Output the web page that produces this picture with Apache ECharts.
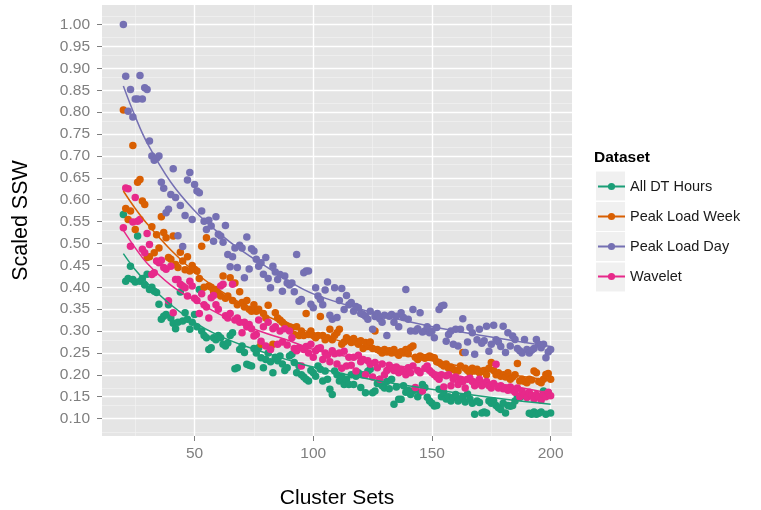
<!DOCTYPE html>
<html>
<head>
<meta charset="utf-8">
<script src="https://cdn.jsdelivr.net/npm/echarts@6/dist/echarts.min.js"></script>
<style>
  html, body { margin: 0; padding: 0; background: #ffffff; }
  #chart { width: 761px; height: 510px; }
</style>
</head>
<body>
<div id="chart"></div>
<script>
// Number of clusters in each clustering run
const clusterSets = [
  20,21,22,23,24,25,26,27,28,29,
  30,31,32,33,34,35,36,37,38,39,
  40,41,42,43,44,45,46,47,48,49,
  50,51,52,53,54,55,56,57,58,59,
  60,61,62,63,64,65,66,67,68,69,
  70,71,72,73,74,75,76,77,78,79,
  80,81,82,83,84,85,86,87,88,89,
  90,91,92,93,94,95,96,97,98,99,
  100,101,102,103,104,105,106,107,108,109,
  110,111,112,113,114,115,116,117,118,119,
  120,121,122,123,124,125,126,127,128,129,
  130,131,132,133,134,135,136,137,138,139,
  140,141,142,143,144,145,146,147,148,149,
  150,151,152,153,154,155,156,157,158,159,
  160,161,162,163,164,165,166,167,168,169,
  170,171,172,173,174,175,176,177,178,179,
  180,181,182,183,184,185,186,187,188,189,
  190,191,192,193,194,195,196,197,198,199,
  200
];

// Scaled SSW per dataset
const allDtHours = [
  0.566,0.414,0.42,0.448,0.418,0.412,0.517,0.414,0.42,0.405,
  0.43,0.395,0.40,0.391,0.388,0.361,0.327,0.334,0.338,0.36,
  0.33,0.318,0.305,0.32,0.389,0.323,0.342,0.327,0.304,0.32,
  0.338,0.31,0.395,0.30,0.29,0.285,0.258,0.262,0.285,0.28,
  0.29,0.285,0.27,0.266,0.273,0.29,0.296,0.214,0.216,0.258,
  0.266,0.251,0.224,0.222,0.22,0.26,0.25,0.262,0.239,0.216,
  0.235,0.25,0.23,0.205,0.24,0.232,0.243,0.225,0.21,0.216,
  0.243,0.247,0.228,0.205,0.22,0.2,0.195,0.19,0.186,0.21,
  0.205,0.197,0.22,0.213,0.186,0.209,0.19,0.167,0.155,0.209,
  0.2,0.186,0.197,0.178,0.19,0.178,0.2,0.178,0.197,0.205,
  0.171,0.2,0.159,0.208,0.213,0.159,0.163,0.18,0.19,0.175,
  0.17,0.185,0.168,0.19,0.133,0.172,0.144,0.144,0.175,0.16,
  0.165,0.155,0.163,0.167,0.15,0.16,0.178,0.171,0.149,0.14,
  0.135,0.129,0.13,0.167,0.15,0.159,0.145,0.15,0.14,0.148,
  0.155,0.14,0.145,0.15,0.138,0.156,0.145,0.135,0.11,0.14,
  0.137,0.113,0.115,0.113,0.14,0.135,0.14,0.13,0.125,0.121,
  0.135,0.113,0.13,0.128,0.13,0.14,0.15,0.148,0.152,0.155,
  0.15,0.112,0.11,0.115,0.11,0.112,0.115,0.163,0.11,0.159,
  0.113
];
const peakLoadWeek = [
  0.805,0.58,0.555,0.574,0.724,0.532,0.64,0.646,0.597,0.589,
  0.468,0.47,0.538,0.479,0.52,0.49,0.561,0.525,0.513,0.468,
  0.464,0.517,0.452,0.445,0.48,0.46,0.44,0.47,0.437,0.45,
  0.441,0.437,0.42,0.494,0.40,0.513,0.403,0.40,0.39,0.395,
  0.385,0.38,0.426,0.375,0.38,0.422,0.37,0.41,0.36,0.39,
  0.365,0.355,0.37,0.35,0.345,0.36,0.345,0.35,0.27,0.34,
  0.33,0.359,0.262,0.27,0.342,0.33,0.325,0.32,0.315,0.312,
  0.31,0.308,0.292,0.31,0.29,0.30,0.29,0.34,0.292,0.30,
  0.29,0.285,0.29,0.333,0.29,0.28,0.285,0.304,0.28,0.29,
  0.296,0.304,0.27,0.275,0.285,0.28,0.274,0.283,0.276,0.27,
  0.278,0.26,0.274,0.265,0.275,0.26,0.30,0.258,0.255,0.25,
  0.258,0.252,0.255,0.25,0.258,0.25,0.245,0.253,0.25,0.258,
  0.248,0.262,0.266,0.24,0.235,0.243,0.24,0.238,0.24,0.243,
  0.24,0.239,0.23,0.228,0.224,0.22,0.225,0.215,0.218,0.212,
  0.21,0.209,0.22,0.251,0.215,0.21,0.205,0.215,0.209,0.213,
  0.205,0.208,0.21,0.20,0.215,0.228,0.21,0.2,0.205,0.197,
  0.2,0.195,0.205,0.19,0.195,0.2,0.226,0.186,0.19,0.185,
  0.182,0.19,0.188,0.209,0.205,0.185,0.182,0.19,0.201,0.203,
  0.19
];
const peakLoadDay = [
  1.00,0.882,0.802,0.852,0.789,0.83,0.83,0.884,0.83,0.856,
  0.852,0.734,0.70,0.69,0.695,0.70,0.640,0.626,0.570,0.578,
  0.612,0.671,0.605,0.518,0.587,0.493,0.564,0.645,0.662,0.555,
  0.635,0.62,0.616,0.574,0.551,0.532,0.553,0.54,0.505,0.561,
  0.521,0.517,0.503,0.541,0.475,0.447,0.47,0.49,0.445,0.496,
  0.49,0.422,0.515,0.442,0.488,0.483,0.464,0.448,0.456,0.43,
  0.468,0.42,0.399,0.448,0.435,0.418,0.429,0.391,0.426,0.41,
  0.405,0.41,0.39,0.475,0.368,0.372,0.433,0.437,0.437,0.361,
  0.353,0.399,0.38,0.372,0.36,0.394,0.412,0.336,0.327,0.399,
  0.331,0.37,0.397,0.349,0.381,0.36,0.365,0.345,0.356,0.353,
  0.34,0.338,0.334,0.327,0.345,0.304,0.333,0.34,0.328,0.32,
  0.336,0.29,0.334,0.338,0.32,0.334,0.31,0.342,0.331,0.395,
  0.327,0.30,0.349,0.30,0.305,0.342,0.298,0.30,0.31,0.296,
  0.30,0.285,0.308,0.349,0.357,0.359,0.277,0.292,0.30,0.27,
  0.304,0.266,0.304,0.328,0.251,0.275,0.308,0.296,0.247,0.28,
  0.304,0.272,0.278,0.311,0.254,0.27,0.313,0.28,0.275,0.265,
  0.311,0.251,0.296,0.266,0.289,0.281,0.26,0.255,0.25,0.281,
  0.258,0.25,0.256,0.26,0.281,0.27,0.262,0.27,0.239,0.252,
  0.258
];
const wavelet = [
  0.536,0.627,0.625,0.494,0.549,0.605,0.551,0.555,0.487,0.479,
  0.523,0.498,0.429,0.433,0.46,0.456,0.462,0.445,0.441,0.369,
  0.448,0.342,0.418,0.418,0.407,0.403,0.399,0.38,0.414,0.403,
  0.375,0.37,0.34,0.385,0.36,0.355,0.33,0.376,0.381,0.36,
  0.35,0.403,0.407,0.335,0.33,0.34,0.407,0.325,0.33,0.32,
  0.296,0.32,0.31,0.315,0.305,0.289,0.292,0.325,0.277,0.31,
  0.266,0.32,0.258,0.305,0.31,0.27,0.30,0.275,0.305,0.268,
  0.30,0.285,0.26,0.255,0.262,0.22,0.258,0.265,0.25,0.27,
  0.24,0.255,0.26,0.262,0.235,0.25,0.245,0.23,0.255,0.248,
  0.225,0.25,0.215,0.254,0.22,0.24,0.222,0.24,0.209,0.245,
  0.23,0.235,0.2,0.232,0.224,0.195,0.228,0.216,0.19,0.225,
  0.2,0.21,0.222,0.215,0.21,0.218,0.205,0.212,0.208,0.2,
  0.216,0.205,0.22,0.171,0.21,0.205,0.163,0.215,0.22,0.21,
  0.205,0.2,0.195,0.19,0.2,0.172,0.198,0.2,0.175,0.19,
  0.195,0.178,0.19,0.185,0.17,0.19,0.192,0.185,0.175,0.18,
  0.19,0.175,0.18,0.185,0.175,0.17,0.18,0.224,0.17,0.175,
  0.168,0.17,0.165,0.172,0.165,0.16,0.17,0.15,0.162,0.155,
  0.148,0.16,0.152,0.145,0.155,0.15,0.142,0.155,0.15,0.16,
  0.152
];

// Fitted trend curves, sampled along the cluster range
const fitX        = [20, 25, 30, 40, 50, 60, 70, 80, 90, 100, 120, 140, 160, 180, 200];
const fitAllDt    = [0.477, 0.44, 0.41, 0.36, 0.32, 0.29, 0.268, 0.25, 0.233, 0.218, 0.194, 0.175, 0.159, 0.145, 0.133];
const fitWeek     = [0.62, 0.58, 0.545, 0.485, 0.435, 0.395, 0.362, 0.335, 0.313, 0.295, 0.265, 0.243, 0.222, 0.203, 0.187];
const fitDay      = [0.86, 0.79, 0.73, 0.64, 0.575, 0.525, 0.483, 0.448, 0.413, 0.385, 0.35, 0.322, 0.3, 0.282, 0.265];
const fitWavelet  = [0.53, 0.49, 0.455, 0.405, 0.37, 0.34, 0.315, 0.295, 0.278, 0.258, 0.236, 0.217, 0.198, 0.178, 0.158];

const datasetNames = ['All DT Hours', 'Peak Load Week', 'Peak Load Day', 'Wavelet'];
const datasetColors = ['#1B9E77', '#D95F02', '#7570B3', '#E7298A'];

// Axis breaks
const xTicks = [50, 100, 150, 200];
const xMinor = [25, 75, 125, 175];
const yTicks = [0.10,0.15,0.20,0.25,0.30,0.35,0.40,0.45,0.50,0.55,0.60,0.65,0.70,0.75,0.80,0.85,0.90,0.95,1.00];
const yMinor = [0.075,0.125,0.175,0.225,0.275,0.325,0.375,0.425,0.475,0.525,0.575,0.625,0.675,0.725,0.775,0.825,0.875,0.925,0.975,1.025];

const pointSets = [allDtHours, peakLoadWeek, peakLoadDay, wavelet];
const fitSets = [fitAllDt, fitWeek, fitDay, fitWavelet];

const FONT = 'Liberation Sans, Arial, Helvetica, sans-serif';

const gridLines = []
  .concat(xMinor.map(v => ({ xAxis: v, lineStyle: { color: '#F2F2F2', width: 0.7, type: 'solid' } })))
  .concat(yMinor.map(v => ({ yAxis: v, lineStyle: { color: '#F2F2F2', width: 0.7, type: 'solid' } })))
  .concat(xTicks.map(v => ({ xAxis: v, lineStyle: { color: '#FFFFFF', width: 1.4, type: 'solid' } })))
  .concat(yTicks.map(v => ({ yAxis: v, lineStyle: { color: '#FFFFFF', width: 1.4, type: 'solid' } })));

const series = [];
// trend lines first so legend icons come from them (line + dot)
datasetNames.forEach((name, k) => {
  series.push({
    name: name,
    type: 'line',
    data: fitX.map((x, i) => [x, fitSets[k][i]]),
    smooth: 0.4,
    showSymbol: false,
    symbol: 'circle',
    lineStyle: { color: datasetColors[k], width: 1.5 },
    itemStyle: { color: datasetColors[k] },
    z: 12,
    silent: true
  });
});
datasetNames.forEach((name, k) => {
  series.push({
    name: name,
    type: 'scatter',
    data: clusterSets.map((x, i) => [x, pointSets[k][i]]),
    symbol: 'circle',
    symbolSize: 7.5,
    itemStyle: { color: datasetColors[k], opacity: 1 },
    z: 10 + k * 0.1,
    silent: true
  });
});
// panel grid lines, kept beneath the points
series.unshift({
  type: 'line',
  data: [],
  z: 1,
  silent: true,
  markLine: {
    z: 1,
    silent: true,
    animation: false,
    symbol: ['none', 'none'],
    label: { show: false },
    emphasis: { disabled: true },
    data: gridLines
  }
});

const chart = echarts.init(document.getElementById('chart'), null, { renderer: 'canvas' });
chart.setOption({
  animation: false,
  backgroundColor: '#ffffff',
  title: {
    text: 'Dataset',
    left: 589,
    top: 145,
    textStyle: { fontFamily: FONT, fontSize: 15.5, fontWeight: 'bold', color: '#000000' }
  },
  legend: {
    orient: 'vertical',
    left: 592,
    top: 174,
    itemWidth: 27,
    itemHeight: 9,
    itemGap: 15,
    data: datasetNames,
    selectedMode: false,
    textStyle: { fontFamily: FONT, fontSize: 14.5, color: '#1a1a1a' }
  },
  graphic: {
    elements: [171.5, 202, 232, 262.5].map(t => ({
      type: 'rect',
      left: 596,
      top: t,
      z: -1,
      shape: { width: 29, height: 29 },
      style: { fill: '#F0F0F0' }
    }))
  },
  grid: {
    left: 102,
    top: 5,
    width: 470,
    height: 431,
    show: true,
    backgroundColor: '#E5E5E5',
    borderWidth: 0,
    outerBoundsMode: 'none',
    containLabel: false
  },
  xAxis: {
    type: 'value',
    min: 11,
    max: 209,
    axisLine: { show: false },
    splitLine: { show: false },
    axisTick: { show: true, customValues: xTicks, length: 5, lineStyle: { color: '#7F7F7F', width: 1 } },
    axisLabel: { customValues: xTicks, color: '#7F7F7F', fontSize: 15.5, fontFamily: FONT, margin: 10 },
    name: 'Cluster Sets',
    nameLocation: 'middle',
    nameGap: 52,
    nameTextStyle: { fontFamily: FONT, fontSize: 21, color: '#000000' }
  },
  yAxis: {
    type: 'value',
    min: 0.0603,
    max: 1.0448,
    axisLine: { show: false },
    splitLine: { show: false },
    axisTick: { show: true, customValues: yTicks, length: 5, lineStyle: { color: '#7F7F7F', width: 1 } },
    axisLabel: { customValues: yTicks, color: '#7F7F7F', fontSize: 15.5, fontFamily: FONT, margin: 12,
      formatter: v => v.toFixed(2) },
    name: 'Scaled SSW',
    nameLocation: 'middle',
    nameGap: 70,
    nameTextStyle: { fontFamily: FONT, fontSize: 21.5, color: '#000000' }
  },
  series: series
});
</script>
</body>
</html>
